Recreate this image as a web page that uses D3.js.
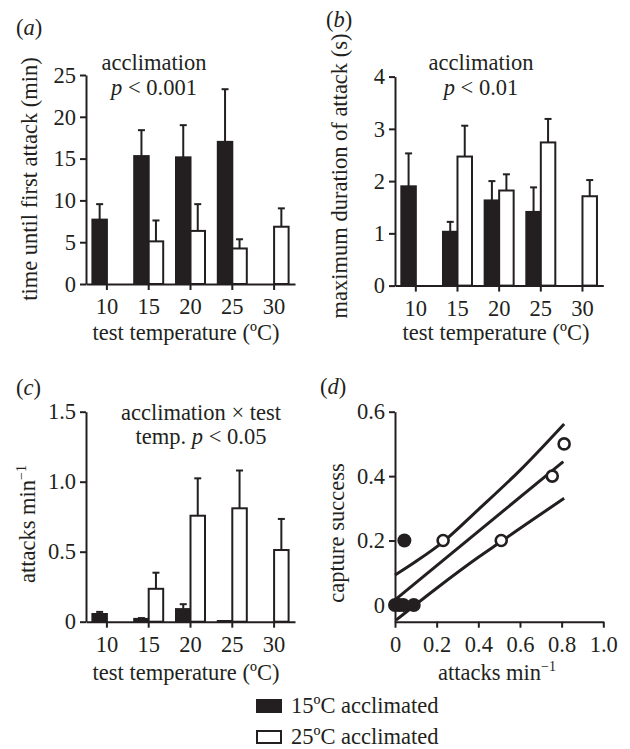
<!DOCTYPE html>
<html>
<head>
<meta charset="utf-8">
<script src="https://cdn.jsdelivr.net/npm/d3@7"></script>
<style>
  body { margin: 0; background: #fff; }
  svg text { font-family: "Liberation Serif", "Times New Roman", Times, serif; font-size: 22.5px; fill: #231f20; }
</style>
</head>
<body>
<svg id="chart" width="630" height="749"></svg>
<script>
// test temperatures and the two acclimation groups
var temps = [10, 15, 20, 25, 30];
var groups = ["15ºC acclimated", "25ºC acclimated"];

// (a) time until first attack (min): means and upper s.e.
var firstAttack15 = [7.7, 15.3, 15.15, 17.0, null];
var firstAttack15Se = [1.85, 3.1, 3.85, 6.3, null];
var firstAttack25 = [null, 5.1, 6.35, 4.25, 6.85];
var firstAttack25Se = [null, 2.5, 3.2, 1.1, 2.2];

// (b) maximum duration of attack (s)
var duration15 = [1.9, 1.03, 1.63, 1.41, null];
var duration15Se = [0.63, 0.19, 0.37, 0.47, null];
var duration25 = [null, 2.47, 1.82, 2.74, 1.71];
var duration25Se = [null, 0.59, 0.31, 0.45, 0.31];

// (c) attacks per minute
var rate15 = [0.055, 0.02, 0.09, 0.005, null];
var rate15Se = [0.015, 0.006, 0.035, 0.0, null];
var rate25 = [null, 0.235, 0.757, 0.81, 0.512];
var rate25Se = [null, 0.115, 0.267, 0.27, 0.222];

// (d) capture success vs attack rate
var filledX = [0, 0.02, 0.04, 0.09, 0.045];
var filledY = [0, 0, 0, 0, 0.2];
var openX = [0.231, 0.51, 0.755, 0.812];
var openY = [0.2, 0.2, 0.4, 0.5];
var fitX = [0, 0.808];
var fitY = [0.016, 0.445];
var upperX = [0, 0.1, 0.231, 0.4, 0.6, 0.812];
var upperY = [0.093, 0.135, 0.196, 0.296, 0.418, 0.562];
var lowerX = [0.005, 0.2, 0.4, 0.51, 0.65, 0.812];
var lowerY = [-0.047, 0.052, 0.148, 0.197, 0.26, 0.331];

var ink = "#231f20";
var svg = d3.select("#chart");

function oneDec(d){ return d === 0 ? "0" : d3.format(".1f")(d); }

function styleAxis(g){
  g.selectAll("path, line").attr("stroke", ink).attr("stroke-width", 2);
}

function panelLabel(x, y, letter){
  var t = svg.append("text").attr("x", x).attr("y", y);
  t.append("tspan").text("(");
  t.append("tspan").style("font-style", "italic").text(letter);
  t.append("tspan").text(")");
}

function yTitle(x, y, str, sup){
  var t = svg.append("text")
      .attr("transform", "translate(" + x + "," + y + ") rotate(-90)")
      .attr("text-anchor", "middle")
      .text(str);
  if (sup) t.append("tspan").attr("dy", -9).style("font-size", "14px").text(sup);
}

function barPanel(p){
  var x = d3.scaleBand().domain(temps).range(p.xr);
  var y = d3.scaleLinear().domain(p.yd).range(p.yr);
  var sub = d3.scaleBand().domain(groups).range([-14.5, 14.5]);
  var g = svg.append("g");

  var series = [
    {name: groups[0], mean: p.m15, se: p.s15, fill: ink},
    {name: groups[1], mean: p.m25, se: p.s25, fill: "#fff"}
  ];

  series.forEach(function(s){
    var rows = temps.map(function(t, i){ return {t: t, m: s.mean[i], se: s.se[i]}; })
        .filter(function(d){ return d.m != null; });
    var cx = function(d){ return x(d.t) + x.bandwidth() / 2 + sub(s.name) + sub.bandwidth() / 2; };

    g.selectAll(null).data(rows).enter().append("line")
        .attr("x1", cx).attr("x2", cx)
        .attr("y1", function(d){ return y(d.m); })
        .attr("y2", function(d){ return y(d.m + d.se); })
        .attr("stroke", ink).attr("stroke-width", 2);
    g.selectAll(null).data(rows.filter(function(d){ return d.se > 0; })).enter().append("line")
        .attr("x1", function(d){ return cx(d) - 3.5; })
        .attr("x2", function(d){ return cx(d) + 3.5; })
        .attr("y1", function(d){ return y(d.m + d.se); })
        .attr("y2", function(d){ return y(d.m + d.se); })
        .attr("stroke", ink).attr("stroke-width", 2);

    g.selectAll(null).data(rows).enter().append("rect")
        .attr("x", function(d){ return x(d.t) + x.bandwidth() / 2 + sub(s.name); })
        .attr("y", function(d){ return y(d.m); })
        .attr("width", sub.bandwidth())
        .attr("height", function(d){ return y(0) - y(d.m); })
        .attr("fill", s.fill)
        .attr("stroke", ink).attr("stroke-width", 2);
  });

  g.append("g")
      .attr("transform", "translate(0," + p.yr[0] + ")")
      .call(d3.axisBottom(x).tickSize(6).tickSizeOuter(0).tickPadding(8))
      .call(styleAxis);
  g.append("g")
      .attr("transform", "translate(" + p.xr[0] + ",0)")
      .call(d3.axisLeft(y).tickValues(p.ticks).tickFormat(p.fmt).tickSize(6).tickSizeOuter(0).tickPadding(4))
      .call(styleAxis);

  svg.append("text").attr("x", p.xtx).attr("y", p.xty).attr("text-anchor", "middle").text("test temperature (ºC)");
}

// (a)
barPanel({xr: [86, 295], yd: [0, 25], yr: [284, 75], ticks: [0, 5, 10, 15, 20, 25], fmt: d3.format("d"),
  m15: firstAttack15, s15: firstAttack15Se, m25: firstAttack25, s25: firstAttack25Se, xtx: 186, xty: 340});
panelLabel(16, 35, "a");
yTitle(37, 179, "time until first attack (min)");
svg.append("text").attr("x", 154).attr("y", 70).attr("text-anchor", "middle").text("acclimation");
var pa = svg.append("text").attr("x", 154).attr("y", 95).attr("text-anchor", "middle");
pa.append("tspan").style("font-style", "italic").text("p");
pa.append("tspan").text(" < 0.001");

// (b)
barPanel({xr: [395, 603.3], yd: [0, 4], yr: [285.6, 76.6], ticks: [0, 1, 2, 3, 4], fmt: d3.format("d"),
  m15: duration15, s15: duration15Se, m25: duration25, s25: duration25Se, xtx: 496, xty: 340});
panelLabel(326, 27, "b");
yTitle(347, 176, "maximum duration of attack (s)");
svg.append("text").attr("x", 481).attr("y", 70).attr("text-anchor", "middle").text("acclimation");
var pb = svg.append("text").attr("x", 481).attr("y", 95).attr("text-anchor", "middle");
pb.append("tspan").style("font-style", "italic").text("p");
pb.append("tspan").text(" < 0.01");

// (c)
barPanel({xr: [86, 295], yd: [0, 1.5], yr: [621.7, 411.7], ticks: [0, 0.5, 1.0, 1.5], fmt: oneDec,
  m15: rate15, s15: rate15Se, m25: rate25, s25: rate25Se, xtx: 186, xty: 680});
panelLabel(16, 395, "c");
yTitle(35, 524, "attacks min", "−1");
svg.append("text").attr("x", 201).attr("y", 420).attr("text-anchor", "middle").text("acclimation × test");
var pc = svg.append("text").attr("x", 201).attr("y", 444).attr("text-anchor", "middle");
pc.append("tspan").text("temp. ");
pc.append("tspan").style("font-style", "italic").text("p");
pc.append("tspan").text(" < 0.05");

// (d)
var xd = d3.scaleLinear().domain([0, 1]).range([395, 603.3]);
var yd = d3.scaleLinear().domain([-0.052, 0.6]).range([621.7, 411.7]);
var gd = svg.append("g");
var line = d3.line().x(function(d){ return xd(d[0]); }).y(function(d){ return yd(d[1]); }).curve(d3.curveMonotoneX);
[[fitX, fitY], [upperX, upperY], [lowerX, lowerY]].forEach(function(s){
  gd.append("path")
      .datum(d3.zip(s[0], s[1]))
      .attr("d", line)
      .attr("fill", "none").attr("stroke", ink).attr("stroke-width", 3);
});
gd.selectAll(null).data(d3.zip(filledX, filledY)).enter().append("circle")
    .attr("cx", function(d){ return xd(d[0]); })
    .attr("cy", function(d){ return yd(d[1]); })
    .attr("r", 7).attr("fill", ink);
gd.selectAll(null).data(d3.zip(openX, openY)).enter().append("circle")
    .attr("cx", function(d){ return xd(d[0]); })
    .attr("cy", function(d){ return yd(d[1]); })
    .attr("r", 5.5).attr("fill", "#fff").attr("stroke", ink).attr("stroke-width", 2.6);
gd.append("g")
    .attr("transform", "translate(0," + yd.range()[0] + ")")
    .call(d3.axisBottom(xd).tickValues([0, 0.2, 0.4, 0.6, 0.8, 1.0]).tickFormat(oneDec).tickSize(6).tickSizeOuter(0).tickPadding(8))
    .call(styleAxis);
gd.append("g")
    .attr("transform", "translate(" + xd.range()[0] + ",0)")
    .call(d3.axisLeft(yd).tickValues([0, 0.2, 0.4, 0.6]).tickFormat(oneDec).tickSize(6).tickSizeOuter(0).tickPadding(4))
    .call(styleAxis);
panelLabel(320, 394, "d");
yTitle(344, 533, "capture success");
var xt = svg.append("text").attr("x", 497).attr("y", 680).attr("text-anchor", "middle").text("attacks min");
xt.append("tspan").attr("dy", -9).style("font-size", "14px").text("−1");

// legend
var legend = svg.append("g").attr("transform", "translate(257,700)");
groups.forEach(function(name, i){
  legend.append("rect")
      .attr("x", 0).attr("y", i * 31)
      .attr("width", 24).attr("height", 12)
      .attr("fill", i === 0 ? ink : "#fff")
      .attr("stroke", ink).attr("stroke-width", 2);
  legend.append("text").attr("x", 34).attr("y", i * 31 + 12.5).text(name);
});
</script>
</body>
</html>
